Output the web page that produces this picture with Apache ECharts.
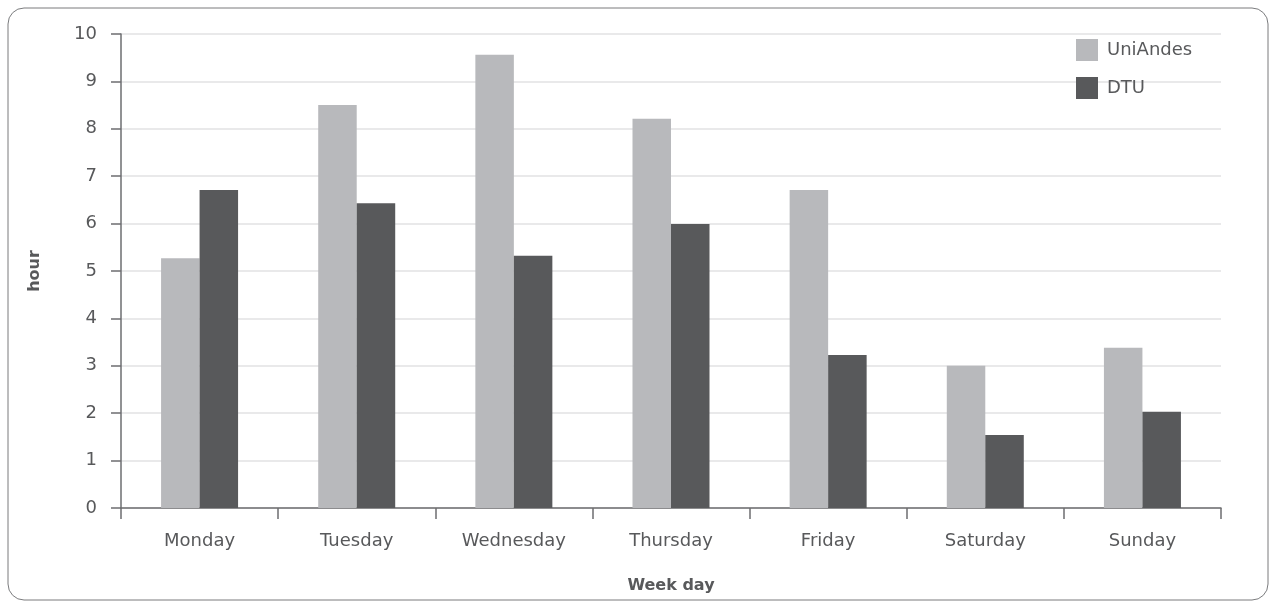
<!DOCTYPE html>
<html>
<head>
<meta charset="utf-8">
<script src="https://cdn.jsdelivr.net/npm/echarts@6/dist/echarts.min.js"></script>
<style>
html,body{margin:0;padding:0;background:#fff;}
#chart{width:1276px;height:608px;}
</style>
</head>
<body>
<div id="chart"></div>
<script>
const categories = ['Monday','Tuesday','Wednesday','Thursday','Friday','Saturday','Sunday'];
const uniAndes = [5.27, 8.50, 9.56, 8.21, 6.71, 3.00, 3.38];
const dtu = [6.71, 6.43, 5.32, 5.99, 3.23, 1.54, 2.03];
const yTicks = [0,1,2,3,4,5,6,7,8,9,10];

const chart = echarts.init(document.getElementById('chart'));
const textColor = '#58595b';
const font = '"DejaVu Sans", "Noto Sans", sans-serif';
chart.setOption({
  animation: false,
  textStyle: { fontFamily: font },
  graphic: [{
    type: 'rect',
    shape: { x: 8, y: 8, width: 1260, height: 592, r: 16 },
    style: { fill: 'none', stroke: '#7a7b7d', lineWidth: 1 },
    z: -10
  }],
  grid: { left: 121, right: 55, top: 34, bottom: 100 },
  legend: {
    orient: 'vertical',
    left: 1071, top: 34,
    itemWidth: 22, itemHeight: 22, itemGap: 16,
    icon: 'rect',
    textStyle: { fontSize: 18, color: textColor, fontFamily: font, padding: [0,0,0,4] },
    data: ['UniAndes','DTU']
  },
  xAxis: {
    type: 'category',
    data: categories,
    name: 'Week day',
    nameLocation: 'middle',
    nameGap: 70,
    nameTextStyle: { fontSize: 16, fontWeight: 'bold', color: textColor, fontFamily: font },
    axisLine: { lineStyle: { color: '#6d6e70', width: 1.5 } },
    axisTick: { show: true, length: 11, alignWithLabel: false, lineStyle: { color: '#6d6e70', width: 1.5 } },
    axisLabel: { fontSize: 18, color: textColor, margin: 24, fontFamily: font },
  },
  yAxis: {
    type: 'value',
    min: yTicks[0], max: yTicks[yTicks.length-1], interval: 1,
    name: 'hour',
    nameLocation: 'middle',
    nameGap: 78,
    nameTextStyle: { fontSize: 16, fontWeight: 'bold', color: textColor, fontFamily: font },
    axisLine: { show: true, lineStyle: { color: '#6d6e70', width: 1.5 } },
    axisTick: { show: true, length: 10, lineStyle: { color: '#6d6e70', width: 1.5 } },
    axisLabel: { fontSize: 18, color: textColor, margin: 24, fontFamily: font },
    splitLine: { lineStyle: { color: '#e2e2e3', width: 1.5 } }
  },
  series: [
    { name: 'UniAndes', type: 'bar', data: uniAndes, itemStyle: { color: '#b8b9bc' }, barGap: '0%', barCategoryGap: '51%' },
    { name: 'DTU', type: 'bar', data: dtu, itemStyle: { color: '#58595b' }, barGap: '0%', barCategoryGap: '51%' }
  ]
});
</script>
</body>
</html>
